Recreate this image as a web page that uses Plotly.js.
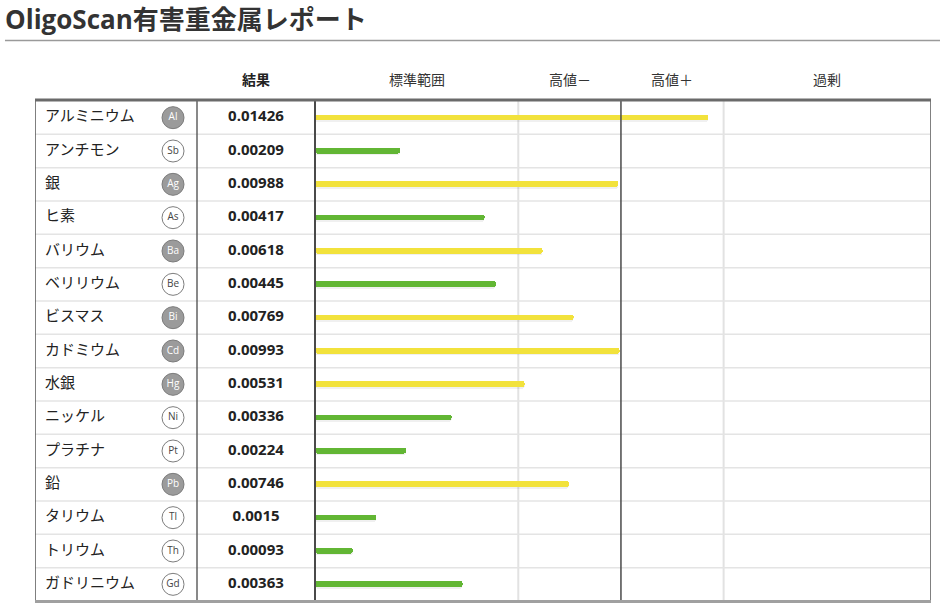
<!DOCTYPE html>
<html>
<head>
<meta charset="utf-8">
<script src="https://cdn.plot.ly/plotly-3.0.1.min.js"></script>
<style>html,body{margin:0;padding:0;background:#fff;}#chart{width:940px;height:608px;}</style>
</head>
<body>
<div id="chart"></div>
<script>
// ---- data ----
const titleText = 'OligoScan有害重金属レポート';
const names = ['アルミニウム','アンチモン','銀','ヒ素','バリウム','ベリリウム','ビスマス','カドミウム','水銀','ニッケル','プラチナ','鉛','タリウム','トリウム','ガドリニウム'];
const symbols = ['Al','Sb','Ag','As','Ba','Be','Bi','Cd','Hg','Ni','Pt','Pb','Tl','Th','Gd'];
const results = [0.01426,0.00209,0.00988,0.00417,0.00618,0.00445,0.00769,0.00993,0.00531,0.00336,0.00224,0.00746,0.0015,0.00093,0.00363];
const resultHeader = '結果';
const bandLabels = ['標準範囲','高値－','高値＋','過剰'];
const bandLimits = [0, 0.005, 0.01, 0.015, 0.025];
const bandUnits = [1.98, 1.0, 1.0, 2.02];
const bandColors = ['#62b634','#f2e23c','#f2e23c','#e0453a'];

// ---- piecewise scale of the band columns ----
const bandStart = [0];
bandUnits.forEach((u, i) => bandStart.push(bandStart[i] + u));
function bandIndex(v){
  for (let i = 0; i < bandUnits.length; i++) if (v <= bandLimits[i+1]) return i;
  return bandUnits.length - 1;
}
function scaleValue(v){
  const i = bandIndex(v);
  return bandStart[i] + (v - bandLimits[i]) / (bandLimits[i+1] - bandLimits[i]) * bandUnits[i];
}

// ---- geometry (axis units: one unit = one narrow band column) ----
const xMin = -2.7273, xMax = bandStart[bandStart.length-1];
const colNameDiv = -1.1494, xName = -2.63, xBadge = -1.383, xResult = -0.575;
const FONT = 'Open Sans, Noto Sans CJK JP, sans-serif';

const n = names.length;
const barX = results.map(scaleValue);
const barColors = results.map(v => bandColors[bandIndex(v)]);
const elevated = results.map(v => bandIndex(v) > 0);

const traces = [
  {
    type: 'bar', orientation: 'h', y: names, x: barX, base: 0,
    width: 0.2, offset: -0.07, marker: {color: 'rgba(0,0,0,0.06)', cornerradius: 3, line: {width: 0}},
    hoverinfo: 'skip', showlegend: false
  },
  {
    type: 'bar', orientation: 'h', y: names, x: barX, base: 0,
    width: 0.17, offset: -0.095, marker: {color: barColors, cornerradius: 3, line: {width: 0}},
    text: results.map(String), hoverinfo: 'y+text', textposition: 'none', showlegend: false
  },
  {
    type: 'scatter', mode: 'text', x: names.map(() => xName), y: names,
    text: names, textposition: 'middle right',
    textfont: {family: FONT, size: 15, color: '#222'}, hoverinfo: 'skip', showlegend: false
  },
  {
    type: 'scatter', mode: 'markers+text', x: names.map(() => xBadge), y: names,
    text: symbols, textposition: 'middle center',
    marker: {size: 22, color: elevated.map(e => e ? '#9b9b9b' : '#ffffff'), line: {color: '#7d7d7d', width: 1}},
    textfont: {family: FONT, size: 10, color: elevated.map(e => e ? '#ffffff' : '#444444')},
    hoverinfo: 'skip', showlegend: false
  },
  {
    type: 'scatter', mode: 'text', x: names.map(() => xResult), y: names,
    text: results.map(v => '<b>' + String(v) + '</b>'), textposition: 'middle center',
    textfont: {family: FONT, size: 15, color: '#222'}, hoverinfo: 'skip', showlegend: false
  }
];

const shapes = [];
// row separators
for (let i = 0; i < n - 1; i++) {
  shapes.push({type: 'line', xref: 'x', yref: 'y', x0: xMin, x1: xMax, y0: i + 0.5, y1: i + 0.5,
    line: {color: '#e4e4e4', width: 1.5}, layer: 'below'});
}
// band dividers
for (let i = 1; i < bandStart.length - 1; i++) {
  const major = (i === 2);
  shapes.push({type: 'line', xref: 'x', yref: 'paper', x0: bandStart[i], x1: bandStart[i], y0: 0, y1: 1,
    line: {color: major ? '#4a4a4a' : '#e2e2e2', width: major ? 1.5 : 2}, layer: major ? 'above' : 'below'});
}
// column borders
shapes.push({type: 'line', xref: 'x', yref: 'paper', x0: colNameDiv, x1: colNameDiv, y0: 0, y1: 1, line: {color: '#4a4a4a', width: 1.3}});
shapes.push({type: 'line', xref: 'x', yref: 'paper', x0: 0, x1: 0, y0: 0, y1: 1, line: {color: '#4a4a4a', width: 2}});
shapes.push({type: 'line', xref: 'x', yref: 'paper', x0: xMin, x1: xMin, y0: 0, y1: 1, line: {color: '#555', width: 1.5}});
shapes.push({type: 'line', xref: 'x', yref: 'paper', x0: xMax, x1: xMax, y0: 0, y1: 1, line: {color: '#808080', width: 2}});
// top and bottom rules
shapes.push({type: 'line', xref: 'x', yref: 'paper', x0: xMin, x1: xMax, y0: 1.002, y1: 1.002, line: {color: '#6a6a6a', width: 3}});
shapes.push({type: 'line', xref: 'x', yref: 'paper', x0: xMin, x1: xMax, y0: -0.001, y1: -0.001, line: {color: '#a0a0a0', width: 3}});
// title underline
shapes.push({type: 'line', xref: 'paper', yref: 'paper', x0: -0.0335, x1: 1.011, y0: 1.121, y1: 1.121, line: {color: '#9a9a9a', width: 1.5}});

const annotations = [];
annotations.push({xref: 'x', yref: 'paper', x: xResult, y: 1.042, text: '<b>' + resultHeader + '</b>', showarrow: false,
  xanchor: 'center', yanchor: 'middle', font: {family: FONT, size: 14, color: '#222'}});
bandLabels.forEach((lab, i) => {
  annotations.push({xref: 'x', yref: 'paper', x: bandStart[i] + bandUnits[i] / 2, y: 1.042, text: lab, showarrow: false,
    xanchor: 'center', yanchor: 'middle', font: {family: FONT, size: 14, color: '#333'}});
});

const layout = {
  width: 940, height: 608,
  margin: {l: 35, r: 9, t: 101, b: 7, pad: 0},
  paper_bgcolor: '#ffffff', plot_bgcolor: '#ffffff',
  title: {text: '<b>' + titleText + '</b>', x: 5/940, xref: 'container', xanchor: 'left',
    y: 1 - 20/608, yref: 'container', yanchor: 'middle', font: {family: FONT, size: 26, color: '#333'}},
  xaxis: {range: [xMin, xMax], showgrid: false, zeroline: false, showticklabels: false, fixedrange: true},
  yaxis: {type: 'category', categoryorder: 'array', categoryarray: names, range: [n - 0.5, -0.5],
    showgrid: false, zeroline: false, showticklabels: false, fixedrange: true},
  shapes: shapes, annotations: annotations, showlegend: false, barmode: 'overlay', bargap: 0
};

Plotly.newPlot('chart', traces, layout, {displayModeBar: false, staticPlot: true});
</script>
</body>
</html>
